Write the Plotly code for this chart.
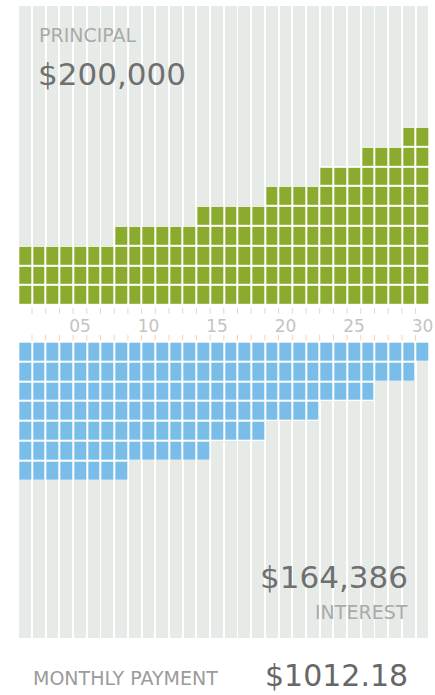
import plotly.graph_objects as go

# ---- data ----
years = list(range(1, 31))
principal_units = [3]*7 + [4]*6 + [5]*5 + [6]*4 + [7]*3 + [8]*3 + [9]*2
interest_units = [7]*8 + [6]*6 + [5]*4 + [4]*4 + [3]*4 + [2]*3 + [1]
tick_vals = [5, 10, 15, 20, 25, 30]
tick_text = ["05", "10", "15", "20", "25", "30"]
principal_label = "PRINCIPAL"
principal_value = "$200,000"
interest_label = "INTEREST"
interest_value = "$164,386"
payment_label = "MONTHLY PAYMENT"
payment_value = "$1012.18"

# ---- layout constants ----
W, H = 435, 695
GREEN = "#8bab2f"
BLUE = "#7bbde9"
STRIPE = "#e7ebe8"
TOP = 15.1          # background top (rows above axis)
GAP = 1.85          # band between principal and interest
BOTTOM = 14.96      # background depth below interest start
BAR_W = 0.855

max_p = max(principal_units)
max_i = max(interest_units)

fig = go.Figure()

# background stripes above principal squares
fig.add_trace(go.Bar(
    x=years, y=[TOP - p for p in principal_units], base=principal_units,
    width=BAR_W, marker=dict(color=STRIPE, line=dict(width=0)),
    hoverinfo="skip", showlegend=False))
# background stripes below interest squares
fig.add_trace(go.Bar(
    x=years, y=[-(BOTTOM - i) for i in interest_units],
    base=[-GAP - i for i in interest_units],
    width=BAR_W, marker=dict(color=STRIPE, line=dict(width=0)),
    hoverinfo="skip", showlegend=False))

# principal squares (heatmap of units)
zp = [[1 if principal_units[c] > r else None for c in range(len(years))] for r in range(max_p)]
fig.add_trace(go.Heatmap(
    x=years, y=[r + 0.5 for r in range(max_p)], z=zp,
    colorscale=[[0, GREEN], [1, GREEN]], showscale=False,
    xgap=2, ygap=2, hoverinfo="skip"))

# interest squares
zi = [[1 if interest_units[c] > r else None for c in range(len(years))] for r in range(max_i)]
fig.add_trace(go.Heatmap(
    x=years, y=[-GAP - (r + 0.5) for r in range(max_i)], z=zi,
    colorscale=[[0, BLUE], [1, BLUE]], showscale=False,
    xgap=2, ygap=2, hoverinfo="skip"))

# tiny tick marks at column boundaries
bounds = [y + 0.5 for y in years[:-1]]
fig.add_trace(go.Scatter(
    x=bounds, y=[-0.3]*len(bounds), mode="markers",
    marker=dict(symbol="line-ns-open", size=4, color="#d6dad6",
                line=dict(color="#d6dad6", width=1)),
    hoverinfo="skip", showlegend=False))
fig.add_trace(go.Scatter(
    x=bounds, y=[-GAP + 0.2]*len(bounds), mode="markers",
    marker=dict(symbol="line-ns-open", size=4, color="#f2d3b3",
                line=dict(color="#f2d3b3", width=1)),
    hoverinfo="skip", showlegend=False))

# pixel mapping
x0 = 0.5 - 18.3 / 13.7
x1 = 0.5 + (W - 18.3) / 13.7
y1 = 305 / 19.8
y0 = -(H - 305) / 19.8

FONT = "DejaVu Sans"

def px(x):
    return x / W

def py(y):
    return 1 - y / H

ann = [
    dict(text=principal_label, x=px(37), y=py(35), xanchor="left", yanchor="middle",
         font=dict(family=FONT, size=19, color="#a9aaa9")),
    dict(text=principal_value, x=px(36), y=py(74), xanchor="left", yanchor="middle",
         font=dict(family=FONT, size=31, color="#6f706f")),
    dict(text=interest_value, x=px(410), y=py(577), xanchor="right", yanchor="middle",
         font=dict(family=FONT, size=31, color="#6f706f")),
    dict(text=interest_label, x=px(410), y=py(612), xanchor="right", yanchor="middle",
         font=dict(family=FONT, size=19, color="#a9aaa9")),
    dict(text=payment_label, x=px(31), y=py(678), xanchor="left", yanchor="middle",
         font=dict(family=FONT, size=19, color="#9a9b9a")),
    dict(text=payment_value, x=px(410), y=py(675), xanchor="right", yanchor="middle",
         font=dict(family=FONT, size=30, color="#666766")),
]

fig.update_layout(
    width=W, height=H,
    margin=dict(l=0, r=0, t=0, b=0),
    paper_bgcolor="white", plot_bgcolor="white",
    barmode="overlay", bargap=0,
    showlegend=False,
    annotations=[dict(a, xref="paper", yref="paper", showarrow=False) for a in ann],
    xaxis=dict(range=[x0, x1], showgrid=False, zeroline=False, showline=False,
               ticks="", tickvals=tick_vals, ticktext=tick_text,
               tickfont=dict(family=FONT, size=17, color="#c3c4c3"),
               anchor="free", position=py(314), fixedrange=True),
    yaxis=dict(range=[y0, y1], showgrid=False, zeroline=False, showline=False,
               showticklabels=False, ticks="", fixedrange=True),
)

fig.write_html("out.html")
